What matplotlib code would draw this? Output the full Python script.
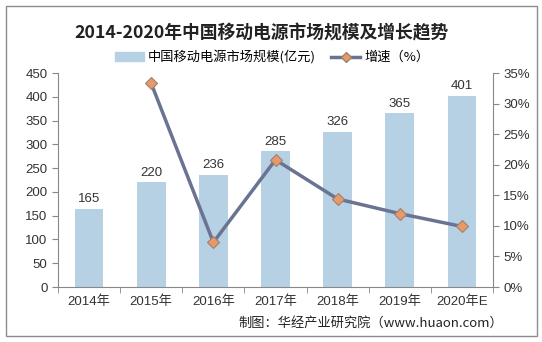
import matplotlib
matplotlib.use("Agg")
import matplotlib.pyplot as plt
from matplotlib.patches import Rectangle
from matplotlib.lines import Line2D

plt.rcParams['font.family'] = ['Liberation Sans', 'Noto Sans CJK SC', 'DejaVu Sans']

years = ['2014年', '2015年', '2016年', '2017年', '2018年', '2019年', '2020年E']
market = [165, 220, 236, 285, 326, 365, 401]
growth = [None, 33.3, 7.3, 20.8, 14.4, 12.0, 9.9]

W, H = 542, 342
fig = plt.figure(figsize=(W/100, H/100), dpi=100)
fig.patches.append(Rectangle((6/W, 6/H), 531/W, 330/H, transform=fig.transFigure,
                             fill=False, edgecolor='#8c8c8c', linewidth=1.0))

ax = fig.add_axes([58/W, 1-287/H, 435/W, 214/H])
x = list(range(len(years)))
bar_color = '#b7d1e4'
ax.bar(x, market, width=0.46, color=bar_color, zorder=1)
ax.set_xlim(-0.5, len(years)-0.5)
ax.set_ylim(0, 450)
ax.set_yticks(range(0, 451, 50))
for xi, v in zip(x, market):
    ax.text(xi, v + 8, str(v), ha='center', va='bottom', fontsize=9.5, color='#333333')
ax.set_xticks(x)
ax.set_xticklabels(years, fontsize=9.5, color='#333333', family=['Liberation Sans', 'Noto Sans CJK SC'])
ax.set_xticks([i + 0.5 for i in range(-1, len(years))], minor=True)
ax.tick_params(axis='x', which='major', length=0, pad=6)
ax.tick_params(axis='x', which='minor', length=4, color='#888888')
ax.tick_params(axis='y', labelsize=9.5, labelcolor='#333333', length=4, color='#888888')
for s in ['top', 'right']:
    ax.spines[s].set_visible(False)
for s in ['left', 'bottom']:
    ax.spines[s].set_color('#888888')

ax2 = ax.twinx()
gx = [xi for xi, g in zip(x, growth) if g is not None]
gy = [g for g in growth if g is not None]
line_color = '#6b7393'
ax2.plot(gx, gy, color=line_color, linewidth=2.5, marker='D', markersize=6,
         markerfacecolor='#e59a67', markeredgecolor='#a08070', markeredgewidth=0.8, zorder=3)
ax2.set_ylim(0, 35)
ax2.set_yticks(range(0, 36, 5))
ax2.set_yticklabels([f'{v}%' for v in range(0, 36, 5)])
ax2.tick_params(axis='y', labelsize=9.5, labelcolor='#333333', length=4, color='#888888')
for s in ['top', 'left', 'bottom']:
    ax2.spines[s].set_visible(False)
ax2.spines['right'].set_color('#888888')

fig.text(262/W, 1-33/H, '2014-2020年中国移动电源市场规模及增长趋势', ha='center', va='center',
         fontsize=12.8, fontweight='bold', color='#222222', family=['Noto Sans CJK SC'])

handles = [Rectangle((0, 0), 1, 1, color=bar_color),
           Line2D([0], [0], color=line_color, linewidth=2.5, marker='D', markersize=5,
                  markerfacecolor='#e59a67', markeredgecolor='#a08070')]
fig.legend(handles, ['中国移动电源市场规模(亿元)', '增速（%）'], loc='center',
           bbox_to_anchor=(272/W, 1-57/H), ncol=2, frameon=False,
           handlelength=2.2, handleheight=0.6, columnspacing=1.2, handletextpad=0.3,
           prop={'family': ['Noto Sans CJK SC'], 'size': 9.5})

fig.text(503/W, 1-323/H, '制图：华经产业研究院（www.huaon.com）', ha='right', va='center',
         fontsize=9.5, color='#222222', family=['Noto Sans CJK SC', 'DejaVu Sans'])

fig.savefig('out.png', dpi=100)
